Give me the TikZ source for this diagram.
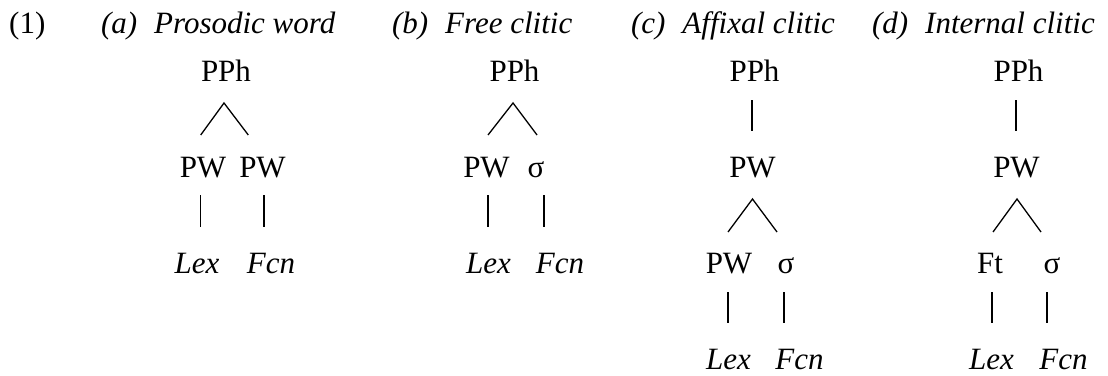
\documentclass[tikz,border=0pt]{standalone}
\usepackage{fontspec}
\setmainfont{Liberation Serif}
\begin{document}
\begin{tikzpicture}[x=1pt,y=-1pt,
  lbl/.style={inner sep=0pt,outer sep=0pt,anchor=base,font=\fontsize{31}{37}\selectfont},
  ilbl/.style={lbl,font=\fontsize{31}{37}\selectfont\itshape},
  hdr/.style={inner sep=0pt,outer sep=0pt,anchor=base west,font=\fontsize{31}{37}\selectfont\itshape},
  edge/.style={line width=1.3pt,line cap=butt}]
\useasboundingbox (0,0) rectangle (1108,375);
% headers
\node[inner sep=0pt,anchor=base west,font=\fontsize{31}{37}\selectfont] (ex) at (9,33) {(1)};
\node[hdr] (ha) at (101,33) {(a)\hspace{0.55em}Prosodic word};
\node[hdr] (hb) at (392,33) {(b)\hspace{0.55em}Free clitic};
\node[hdr] (hc) at (631,33) {(c)\hspace{0.55em}Affixal clitic};
\node[hdr] (hd) at (872,33) {(d)\hspace{0.55em}Internal clitic};
% (a)
\node[lbl] (ppha) at (226,81) {PPh};
\node[lbl] (pwa1) at (203,177) {PW};
\node[lbl] (pwa2) at (262.5,177) {PW};
\node[ilbl] (lexa) at (197,273) {Lex};
\node[ilbl] (fcna) at (271,273) {Fcn};
\draw[edge] (ppha.base) ++(-25.3,54) -- ++(23.3,-32) -- ++(24.3,32);
\draw[edge] (pwa1.base) ++(-2.5,18) -- ++(0,32);
\draw[edge] (pwa2.base) ++(1.5,18) -- ++(0,32);
% (b)
\node[lbl] (pphb) at (514.5,81) {PPh};
\node[lbl] (pwb) at (486.5,177) {PW};
\node[lbl] (sigb) at (536,177) {σ};
\node[ilbl] (lexb) at (488.5,273) {Lex};
\node[ilbl] (fcnb) at (560,273) {Fcn};
\draw[edge] (pphb.base) ++(-26.5,54) -- ++(25,-32) -- ++(24,32);
\draw[edge] (pwb.base) ++(1.5,18) -- ++(0,32);
\draw[edge] (sigb.base) ++(8,18) -- ++(0,32);
% (c)
\node[lbl] (pphc) at (754.5,81) {PPh};
\node[lbl] (pwc) at (752.5,177) {PW};
\node[lbl] (pwc2) at (729,273) {PW};
\node[lbl] (sigc) at (786,273) {σ};
\node[ilbl] (lexc) at (728.5,369) {Lex};
\node[ilbl] (fcnc) at (799.5,369) {Fcn};
\draw[edge] (pphc.base) ++(-2.5,19) -- ++(0,31);
\draw[edge] (pwc.base) ++(-24.5,55) -- ++(24.5,-33) -- ++(24.5,33);
\draw[edge] (pwc2.base) ++(-1,19) -- ++(0,31);
\draw[edge] (sigc.base) ++(-2,19) -- ++(0,31);
% (d)
\node[lbl] (pphd) at (1018.5,81) {PPh};
\node[lbl] (pwd) at (1016.5,177) {PW};
\node[lbl] (ftd) at (990,273) {Ft};
\node[lbl] (sigd) at (1052,273) {σ};
\node[ilbl] (lexd) at (991.5,369) {Lex};
\node[ilbl] (fcnd) at (1063.5,369) {Fcn};
\draw[edge] (pphd.base) ++(-2.5,19) -- ++(0,31);
\draw[edge] (pwd.base) ++(-23.5,55) -- ++(24,-33) -- ++(24,33);
\draw[edge] (ftd.base) ++(2,19) -- ++(0,31);
\draw[edge] (sigd.base) ++(-5,19) -- ++(0,31);
\end{tikzpicture}
\end{document}
